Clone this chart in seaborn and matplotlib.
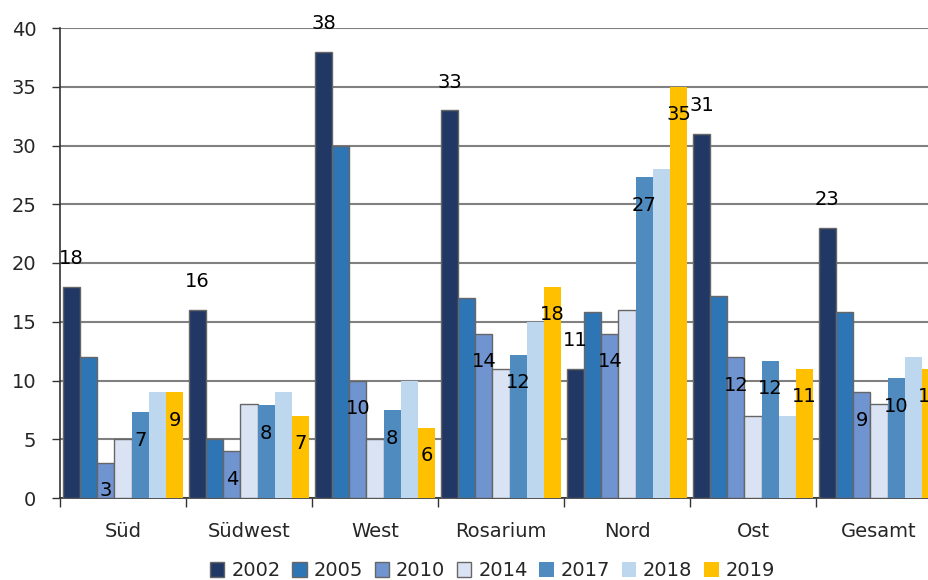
import pandas as pd
import matplotlib.pyplot as plt
import seaborn as sns

regions = ["Süd", "Südwest", "West", "Rosarium", "Nord", "Ost", "Gesamt"]
years = ["2002", "2005", "2010", "2014", "2017", "2018", "2019"]

v2002 = [18, 16, 38, 33, 11, 31, 23]
v2005 = [12, 5, 30, 17, 15.8, 17.2, 15.8]
v2010 = [3, 4, 10, 14, 14, 12, 9]
v2014 = [5, 8, 5, 11, 16, 7, 8]
v2017 = [7.3, 7.9, 7.5, 12.2, 27.3, 11.7, 10.2]
v2018 = [9, 9, 10, 15, 28, 7, 12]
v2019 = [9, 7, 6, 18, 35, 11, 11]

colors = ["#213864", "#2E75B6", "#7094D0", "#DAE3F3", "#4F8BBF", "#BDD7EE", "#FFC000"]

series = [v2002, v2005, v2010, v2014, v2017, v2018, v2019]
rows = []
for year, vals in zip(years, series):
    for region, v in zip(regions, vals):
        rows.append({"Region": region, "Jahr": year, "Wert": v})
df = pd.DataFrame(rows)

sns.set_style("white")
plt.rcParams["font.family"] = ["DejaVu Sans"]

fig = plt.figure(figsize=(9.29, 5.80), dpi=100)
ax = fig.add_axes([60 / 929, 1 - 498 / 580, 882 / 929, 470 / 580])

sns.barplot(data=df, x="Region", y="Wert", hue="Jahr", order=regions, hue_order=years,
            palette=colors, saturation=1, width=0.955, gap=0, legend=False, ax=ax, zorder=3)

# edges only on the first four series
for i, cont in enumerate(ax.containers):
    for p in cont:
        if i < 4:
            p.set_edgecolor("#666666")
            p.set_linewidth(1)
        else:
            p.set_edgecolor("none")

# data labels: 2002 above the bar, 2010 / 2017 / 2019 inside at the top
label_pos = {0: 2.4, 2: -2.4, 4: -2.4, 6: -2.4}
for i, off in label_pos.items():
    for p, v in zip(ax.containers[i], series[i]):
        ax.text(p.get_x() + p.get_width() / 2, v + off, f"{v:.0f}",
                ha="center", va="center", fontsize=14, color="black", zorder=5)

ax.set_ylim(0, 40)
ax.set_xlim(-0.5, 6.5)
ax.set_yticks(range(0, 41, 5))
ax.yaxis.grid(True, color="#808080", linewidth=1.5, zorder=0)
ax.set_axisbelow(True)
ax.set_xlabel("")
ax.set_ylabel("")

for s in ["top", "right"]:
    ax.spines[s].set_visible(False)
for s in ["left", "bottom"]:
    ax.spines[s].set_color("#333333")
    ax.spines[s].set_linewidth(1.2)

ax.set_xticks([x + 0.5 for x in range(-1, 7)], minor=True)
ax.tick_params(axis="x", which="minor", length=6.5, width=1, color="#333333", direction="out", bottom=True)
ax.tick_params(axis="x", which="major", length=0, pad=17, labelsize=14)
ax.tick_params(axis="y", length=6, width=1, color="#333333", direction="out", left=True, labelsize=14, pad=11)

handles = list(ax.containers)
fig.legend(handles, years, loc="center", bbox_to_anchor=(0.53, 0.016), ncol=7, frameon=False,
           fontsize=14, handlelength=0.75, handleheight=0.75, handletextpad=0.35, columnspacing=0.6,
           borderpad=0.1)

fig.savefig("out.png", dpi=100)
